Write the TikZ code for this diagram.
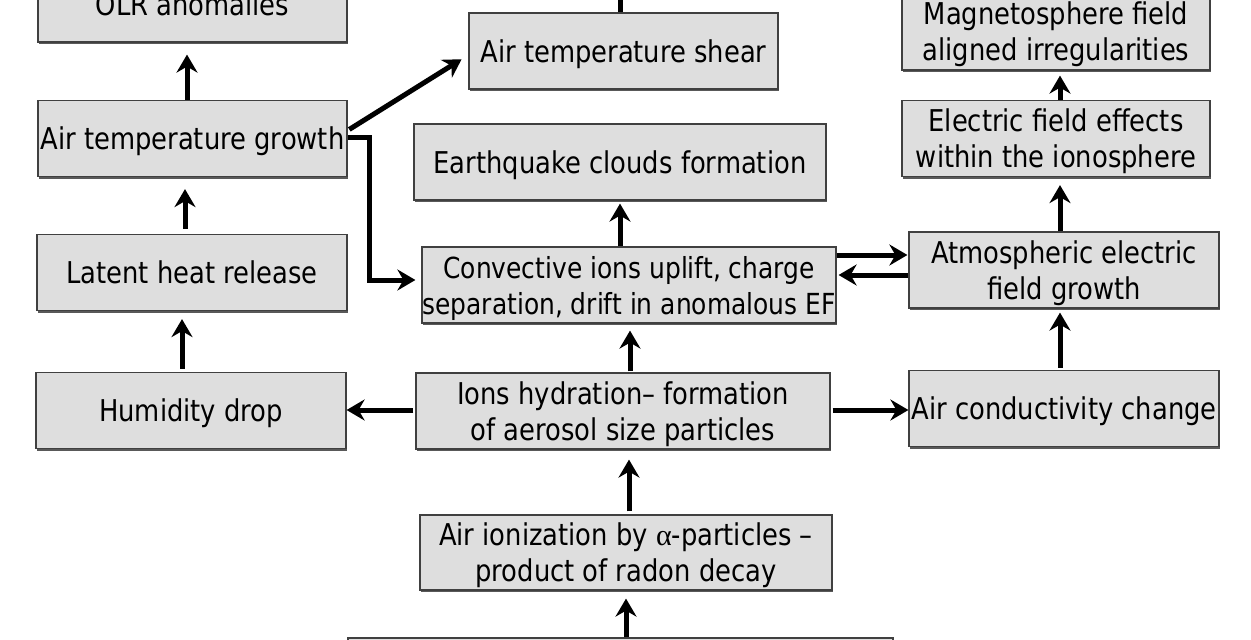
\documentclass[tikz,border=0pt]{standalone}
\usepackage{fontspec}
\setmainfont{DejaVu Sans}[FakeStretch=0.86]
\newfontfamily\greekserif{Liberation Serif}
\usetikzlibrary{arrows.meta,shadows}
\newcommand\tx[1]{\raisebox{-4pt}[\height][\depth]{\begin{tabular}{@{}c@{}}#1\end{tabular}}}
\begin{document}
\begin{tikzpicture}[x=1pt,y=-1pt,
  box/.style={draw=black!75, line width=1.2pt, fill=black!13, align=center,
    inner sep=0pt, minimum height=76pt,
    font=\fontsize{30}{36}\selectfont,
    drop shadow={shadow xshift=1.2pt, shadow yshift=-2.4pt, fill=black!65, opacity=1}},
  arr/.style={line width=5pt, -{Stealth[length=18pt,width=21pt,inset=6pt]}},
  ]
\useasboundingbox (0,0) rectangle (1251,640);
\fill[white] (0,0) rectangle (1251,640);
% left column
\node[box, minimum width=309pt, minimum height=76pt] (olr) at (192.5,4) {\tx{OLR anomalies}};
\node[box, minimum width=309pt] (atg) at (192.5,138.5) {\tx{Air temperature growth}};
\node[box, minimum width=310pt] (lat) at (192,272.5) {\tx{Latent heat release}};
\node[box, minimum width=310pt] (hum) at (191,410.5) {\tx{Humidity drop}};
% middle column
\node[box, minimum width=309pt] (shear) at (623.5,51) {\tx{Air temperature shear}};
\coordinate (above) at (620,-30);
\node[box, minimum width=412pt] (eq) at (620,162) {\tx{Earthquake clouds formation}};
\node[box, minimum width=414pt, font=\fontsize{29}{36}\selectfont] (conv) at (629,285) {\tx{Convective ions uplift, charge\\separation, drift in anomalous EF}};
\node[box, minimum width=414pt] (ions) at (623,411) {\tx{Ions hydration\textendash{} formation\\of aerosol size particles}};
\node[box, minimum width=412pt, minimum height=75pt] (aion) at (626,552.5) {\tx{Air ionization by {\greekserif α}-particles \textendash\\product of radon decay}};
\node[box, minimum width=545pt, minimum height=82pt] (bot) at (620.5,679) {};
% right column
\node[box, minimum width=308pt, minimum height=77pt] (mag) at (1056,31.5) {\tx{Magnetosphere field\\aligned irregularities}};
\node[box, minimum width=308pt] (efe) at (1056,138.5) {\tx{Electric field effects\\within the ionosphere}};
\node[box, minimum width=310pt] (aefg) at (1064,270) {\tx{Atmospheric electric\\field growth}};
\node[box, minimum width=310pt] (acc) at (1064,408.5) {\tx{Air conductivity change}};
% arrows left
\draw[arr, shorten >=12pt] ([xshift=-5.5pt]atg.north) -- ([xshift=-5.5pt]atg.north |- olr.south);
\draw[arr, shorten <=5pt, shorten >=12pt] ([xshift=-7pt]lat.north) -- ([xshift=-7pt]lat.north |- atg.south);
\draw[arr, shorten <=3pt, shorten >=8pt] ([xshift=-9pt]hum.north) -- ([xshift=-9pt]hum.north |- lat.south);
\draw[arr, shorten <=2pt] ([yshift=1pt]ions.west) -- ([yshift=1pt]ions.west -| hum.east);
\draw[arr, shorten <=2pt] ([yshift=1pt]ions.east) -- ([yshift=1pt]ions.east -| acc.west);
% arrows middle
\draw[arr, shorten <=1pt, shorten >=7pt] ([xshift=7pt]ions.north) -- ([xshift=7pt]ions.north |- conv.south);
\draw[arr, shorten <=3pt, shorten >=10pt] ([xshift=3pt]aion.north) -- ([xshift=3pt]aion.north |- ions.south);
\draw[arr, shorten <=0pt, shorten >=8pt] ([xshift=5.5pt]bot.north) -- ([xshift=5.5pt]bot.north |- aion.south);
\draw[arr, shorten >=3pt] (eq.south |- conv.north) -- (eq.south);
\draw[arr] ([xshift=-3.5pt]shear.north) -- ([xshift=-3.5pt]shear.north |- above);
\draw[arr, shorten <=2pt, shorten >=8pt] ([yshift=8pt]atg.east) -- ([yshift=-4pt]shear.west);
\draw[arr, shorten >=6pt] ([yshift=1pt]atg.east) -- ++(22,0) |- ([yshift=5pt]conv.west);
\draw[arr, shorten >=1pt] ([yshift=30pt]conv.east) -- ([yshift=30pt]conv.east -| aefg.west);
\draw[arr, shorten >=2pt] ([yshift=10pt]conv.east -| aefg.west) -- ([yshift=10pt]conv.east);
% arrows right
\draw[arr, shorten <=2pt, shorten >=4pt] ([xshift=-4pt]acc.north) -- ([xshift=-4pt]acc.north |- aefg.south);
\draw[arr, shorten >=8pt] ([xshift=4pt]efe.south |- aefg.north) -- ([xshift=4pt]efe.south);
\draw[arr, shorten >=5pt] ([xshift=4pt]efe.north) -- ([xshift=4pt]efe.north |- mag.south);
\end{tikzpicture}
\end{document}
